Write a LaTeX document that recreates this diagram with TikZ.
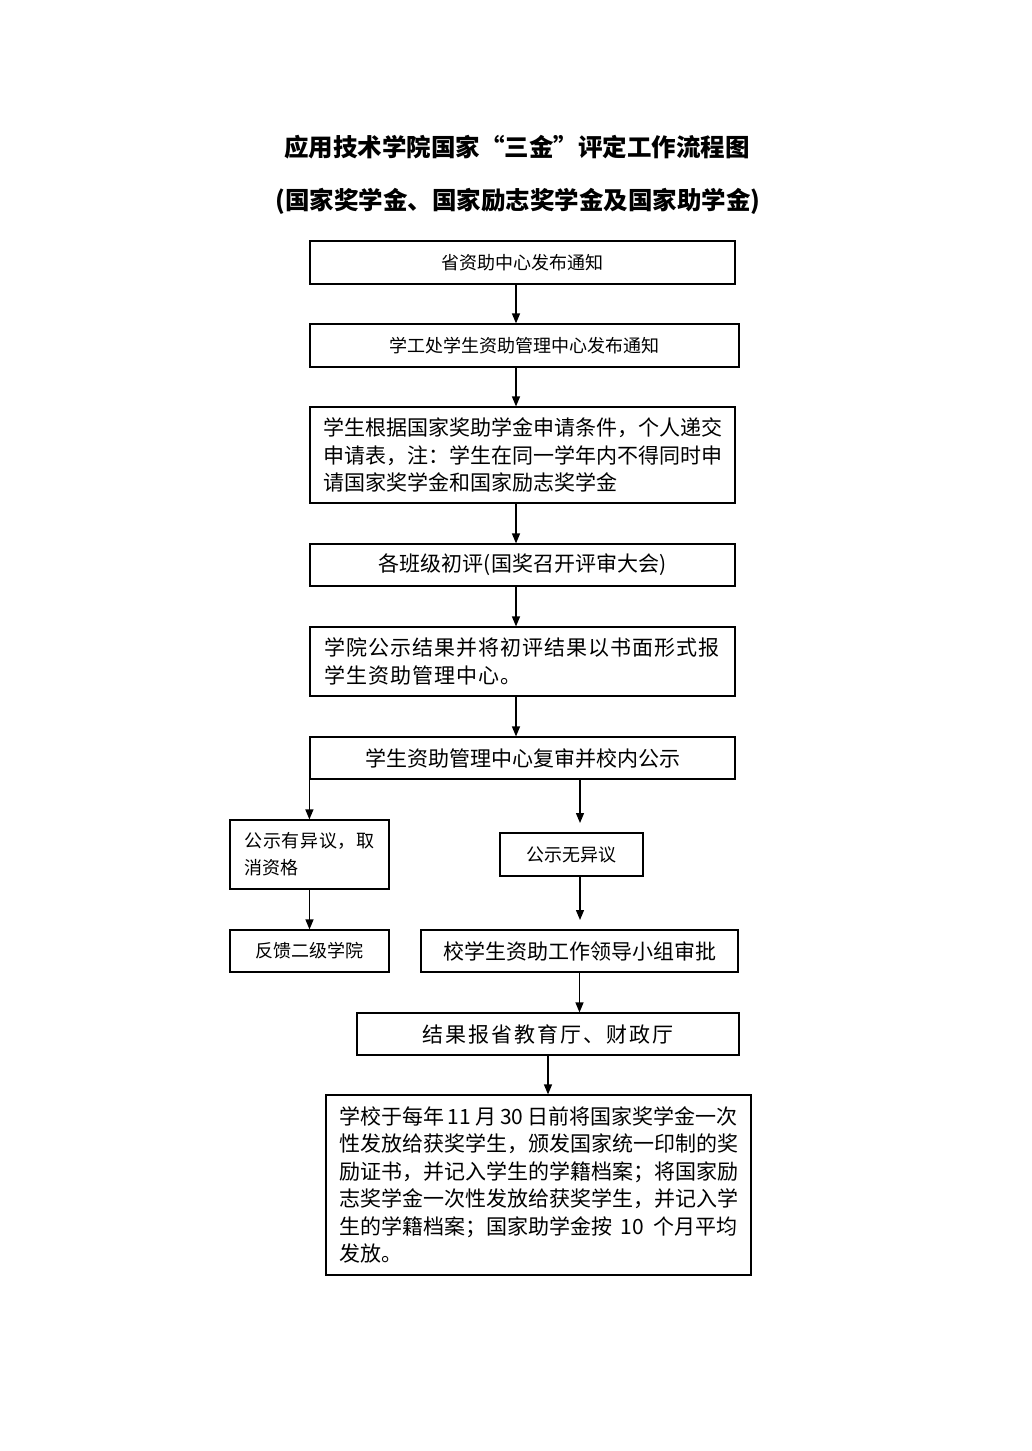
\documentclass[tikz,border=0pt]{standalone}
\usepackage{fontspec}
\setmainfont{Noto Sans CJK SC}
\usetikzlibrary{arrows.meta}
\begin{document}
\begin{tikzpicture}[x=1pt,y=-1pt,
  box/.style={draw, line width=1.2pt, inner sep=0pt, font=\fontsize{21}{27.5}\selectfont, align=left},
  sbox/.style={box, font=\fontsize{18}{27}\selectfont},
  mbox/.style={box, inner xsep=14pt, text width=#1},
  ttl/.style={font=\bfseries\fontsize{24.5}{30}\selectfont, inner sep=0pt},
  arr/.style={line width=1.3pt, -{Triangle[length=10pt,width=8pt]}}]
\useasboundingbox (0,0) rectangle (1032,1451);
% titles
\node[ttl] (t1) at (517,147) {应用技术学院国家“三金”评定工作流程图};
\node[ttl] (t2) at (518,201) {(国家奖学金、国家励志奖学金及国家助学金)};
% boxes
\node[sbox, minimum width=425pt, minimum height=43pt] (b1) at (522.5,262.5) {省资助中心发布通知};
\node[sbox, minimum width=429pt, minimum height=43pt] (b2) at (524.5,345.5) {学工处学生资助管理中心发布通知};
\node[mbox=399pt, inner xsep=13pt, minimum height=96pt] (b3) at (522.5,455) {学生根据国家奖助学金申请条件，个人递交\\申请表，注：学生在同一学年内不得同时申\\请国家奖学金和国家励志奖学金};
\node[box, minimum width=425pt, minimum height=42pt] (b4) at (522.5,565) {各班级初评(国奖召开评审大会)};
\node[mbox=397pt, minimum height=69pt] (b5) at (522.5,661.5) {\addfontfeature{LetterSpace=5}学院公示结果并将初评结果以书面形式报\\学生资助管理中心。};
\node[box, minimum width=425pt, minimum height=42pt] (b6) at (522.5,758) {学生资助管理中心复审并校内公示};
\node[sbox, minimum width=159pt, minimum height=69pt] (b7) at (309.5,854.5) {\addfontfeature{LetterSpace=3}公示有异议，取\\消资格};
\node[sbox, minimum width=143pt, minimum height=43pt] (b8) at (571.5,854.5) {公示无异议};
\node[sbox, minimum width=159pt, minimum height=42pt] (b9) at (309.5,951) {反馈二级学院};
\node[box, minimum width=317pt, minimum height=42pt] (b10) at (579.5,951) {校学生资助工作领导小组审批};
\node[box, minimum width=382pt, minimum height=42pt] (b11) at (548,1034) {\addfontfeature{LetterSpace=10}结果报省教育厅、财政厅};
\node[mbox=399pt, inner xsep=13pt, minimum height=180pt] (b12) at (538.5,1185) {学校于每年\kern4pt 11\kern4pt 月\kern4pt 30\kern4pt 日前将国家奖学金一次\\性发放给获奖学生，颁发国家统一印制的奖\\励证书，并记入学生的学籍档案；将国家励\\志奖学金一次性发放给获奖学生，并记入学\\生的学籍档案；国家助学金按\kern9pt 10\kern9pt 个月平均\\发放。};
% arrow guide and ends
\coordinate (mx) at (516,0);
\coordinate (a1) at (580,823);
\coordinate (a2) at (580,920);
% connectors
\draw[arr] (b1.south -| mx) -- (b2.north -| mx);
\draw[arr] (b2.south -| mx) -- (b3.north -| mx);
\draw[arr] (b3.south -| mx) -- (b4.north -| mx);
\draw[arr] (b4.south -| mx) -- (b5.north -| mx);
\draw[arr] (b5.south -| mx) -- (b6.north -| mx);
\draw[arr] (b6.south west) -- (b6.south west |- b7.north);
\draw[arr] (b6.south -| a1) -- (a1);
\draw[arr] (b8.south -| a2) -- (a2);
\draw[arr] (b7.south) -- (b9.north);
\draw[arr] (b10.south) -- (b10.south |- b11.north);
\draw[arr] (b11.south) -- (b11.south |- b12.north);
\end{tikzpicture}
\end{document}
